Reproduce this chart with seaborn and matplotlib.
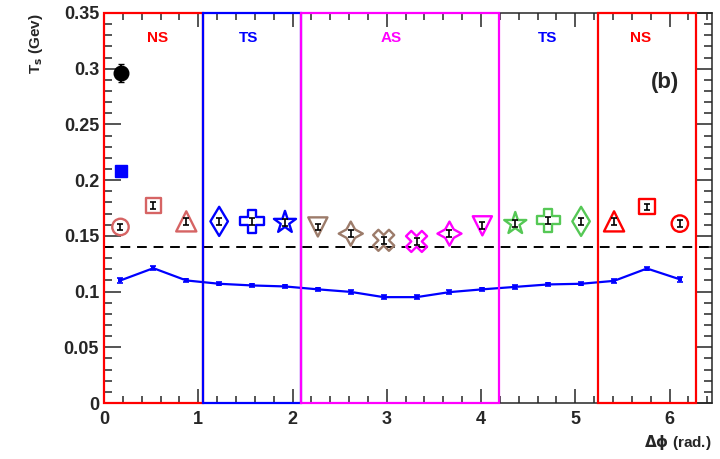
import numpy as np
import pandas as pd
import matplotlib
matplotlib.use('Agg')
import matplotlib.pyplot as plt
from matplotlib.patches import Rectangle
from matplotlib.ticker import MultipleLocator
import seaborn as sns

# ── Data ────────────────────────────────────────────────────
dphi = [0.175, 0.524, 0.873, 1.222, 1.571, 1.920, 2.269, 2.618, 2.967,
        3.316, 3.665, 4.014, 4.363, 4.712, 5.061, 5.411, 5.760, 6.109]
ts_bins = [0.158, 0.177, 0.163, 0.163, 0.163, 0.162, 0.158, 0.152, 0.146,
           0.145, 0.152, 0.159, 0.161, 0.164, 0.163, 0.163, 0.176, 0.161]
ts_bins_err = [0.003, 0.003, 0.003, 0.003, 0.003, 0.003, 0.003, 0.003, 0.003,
               0.003, 0.003, 0.003, 0.003, 0.003, 0.003, 0.003, 0.003, 0.003]
ts_curve = [0.110, 0.121, 0.110, 0.107, 0.1055, 0.1046, 0.102, 0.0997, 0.095,
            0.095, 0.0995, 0.102, 0.1042, 0.1064, 0.107, 0.1096, 0.1207, 0.111]
ts_curve_err = [0.002, 0.0015, 0.0015, 0.0015, 0.0015, 0.0015, 0.0015, 0.0015, 0.0015,
                0.0015, 0.0015, 0.0015, 0.0015, 0.0015, 0.0015, 0.0015, 0.0015, 0.002]
incl_x, incl_y, incl_err = 0.18, 0.296, 0.008
jet_x, jet_y, jet_err = 0.18, 0.208, 0.004
ref_level = 0.14

regions = ['NS', 'TS', 'AS', 'TS', 'NS']
region_x = [0.57, 1.53, 3.05, 4.71, 5.69]

# ── Style ────────────────────────────────────────────────────
sns.set_style('ticks')
plt.rcParams['font.family'] = ['Liberation Sans', 'DejaVu Sans']
plt.rcParams['font.weight'] = 'bold'
plt.rcParams['mathtext.default'] = 'bf'

RED = '#ff0000'
SALMON = '#d66464'
BLUE = '#0000ff'
GREEN = '#55c855'
BROWN = '#9c7b6a'
MAGENTA = '#ff00ff'

pt_markers = ['o', 's', '^', 'd', 'P', '*', 'v', (4, 1, 0), 'X',
              'X', (4, 1, 0), 'v', '*', 'P', 'd', '^', 's', 'o']
pt_colors = [SALMON] * 3 + [BLUE] * 3 + [BROWN] * 3 + [MAGENTA] * 3 + [GREEN] * 3 + [RED] * 3
pt_sizes = [140, 120, 210, 220, 280, 280, 190, 300, 230,
            230, 300, 190, 280, 280, 220, 210, 120, 140]
region_colors = [RED, BLUE, MAGENTA, BLUE, RED]

fig = plt.figure(figsize=(7.2, 4.59), dpi=100)
ax = fig.add_axes([0.1444, 0.122, 0.8445, 0.8497])

# blue curve with small square markers
curve = pd.DataFrame({'dphi': dphi, 'Ts': ts_curve})
sns.lineplot(data=curve, x='dphi', y='Ts', ax=ax, color=BLUE, lw=1.6,
             marker='s', markersize=3.5, markeredgewidth=0, sort=False, zorder=3)
ax.errorbar(dphi, ts_curve, yerr=ts_curve_err, fmt='none', ecolor=BLUE,
            elinewidth=1.2, capsize=2, capthick=1.2, zorder=3)

# reference dashed level
ax.axhline(ref_level, color='black', lw=1.4, ls=(0, (5, 3.5)), zorder=2)

# hollow markers per bin
for x, y, m, c, s in zip(dphi, ts_bins, pt_markers, pt_colors, pt_sizes):
    sns.scatterplot(x=[x], y=[y], ax=ax, marker=m, s=s, facecolor='none',
                    edgecolor=c, linewidth=1.7, zorder=4, legend=False)
ax.errorbar(dphi, ts_bins, yerr=ts_bins_err, fmt='none', ecolor='black',
            elinewidth=1.2, capsize=2, capthick=1.2, zorder=5)

# inclusive / jet points
ax.errorbar([incl_x], [incl_y], yerr=[incl_err], fmt='o', color='black',
            markersize=10.5, elinewidth=1.4, capsize=2.5, zorder=5)
ax.errorbar([jet_x], [jet_y], yerr=[jet_err], fmt='s', color=BLUE,
            markersize=8.5, elinewidth=1.4, capsize=2.5, zorder=5)

# region boxes
third = np.pi / 3
boxes = [(0, third, RED), (third, third, BLUE), (2 * third, 2 * third, MAGENTA),
         (5 * third, third, RED)]
for x0, w, c in boxes:
    ax.add_patch(Rectangle((x0, 0), w, 0.35, fill=False, edgecolor=c, lw=1.6,
                           clip_on=False, zorder=6))

for lbl, x, c in zip(regions, region_x, region_colors):
    ax.text(x, 0.3275, lbl, color=c, fontsize=11, fontweight='bold',
            ha='center', va='center')
ax.text(5.95, 0.288, '(b)', fontsize=16, fontweight='bold', ha='center', va='center')

ax.set_xlim(0, 6.45)
ax.set_ylim(0, 0.35)
ax.xaxis.set_major_locator(MultipleLocator(1))
ax.xaxis.set_minor_locator(MultipleLocator(0.2))
ax.yaxis.set_minor_locator(MultipleLocator(0.01))
ax.set_yticks(np.arange(0, 0.351, 0.05))
ax.set_yticklabels(['0', '0.05', '0.1', '0.15', '0.2', '0.25', '0.3', '0.35'])
ax.tick_params(which='both', direction='in', top=True, right=True,
               labelsize=13, width=1.1)
ax.tick_params(axis='y', which='major', length=12)
ax.tick_params(axis='y', which='minor', length=6)
ax.tick_params(axis='x', which='major', length=10, pad=6)
ax.tick_params(axis='x', which='minor', length=5)
for sp in ax.spines.values():
    sp.set_linewidth(1.1)
for lab in ax.get_xticklabels() + ax.get_yticklabels():
    lab.set_fontweight('bold')
ax.set_xlabel('')
ax.set_ylabel('')

fig.text(0.05, 0.972, r'T$_{\rm s}$ (Gev)', rotation=90, ha='center', va='top',
         fontsize=11, fontweight='bold')
fig.text(0.989, 1 - 442 / 459, r'$\Delta\phi$ (rad.)', ha='right', va='center',
         fontsize=11, fontweight='bold')

fig.savefig('out.png', dpi=100)
